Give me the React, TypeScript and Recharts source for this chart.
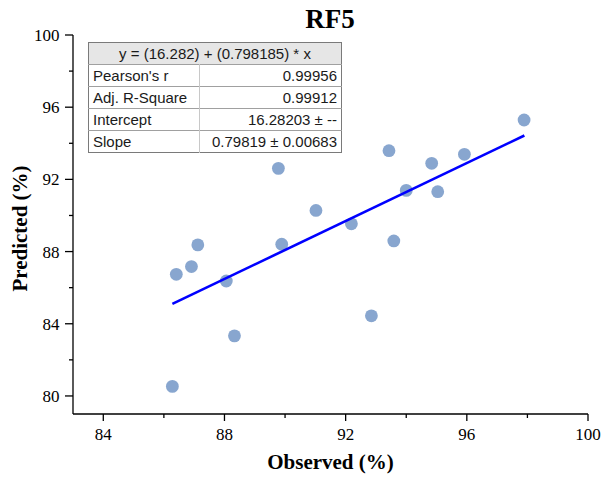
import { Label, Scatter, ScatterChart, XAxis, YAxis } from "recharts";

const OBSERVED = [86.28, 86.41, 86.91, 87.12, 88.06, 88.33, 89.78, 89.89, 91.02, 92.19, 92.85, 93.43, 93.59, 94.0, 94.84, 95.04, 95.92, 97.89];
const PREDICTED = [80.53, 86.74, 87.17, 88.37, 86.37, 83.33, 92.61, 88.41, 90.28, 89.54, 84.44, 93.59, 88.59, 91.39, 92.89, 91.32, 93.39, 95.29];

// linear fit drawn across the observed range
const FIT_X = [86.28, 97.9];
const FIT_Y = [85.1, 94.43];

const X_TICKS = [84, 86, 88, 90, 92, 94, 96, 98, 100];
const Y_TICKS = [80, 82, 84, 86, 88, 90, 92, 94, 96, 98, 100];

const EQUATION = "y = (16.282) + (0.798185) * x";
const STAT_NAMES = ["Pearson's r", "Adj. R-Square", "Intercept", "Slope"];
const STAT_VALUES = ["0.99956", "0.99912", "16.28203 ± --", "0.79819 ± 0.00683"];

const SERIF = '"Liberation Serif", "Times New Roman", serif';
const SANS = '"Liberation Sans", Arial, sans-serif';

const points = OBSERVED.map((x, i) => ({ x, y: PREDICTED[i] }));
const fit = FIT_X.map((x, i) => ({ x, y: FIT_Y[i] }));

function XTick(props: any) {
  const { x, y, payload } = props;
  const major = payload.value % 4 === 0;
  return (
    <g>
      <line x1={x} x2={x} y1={y} y2={y + (major ? 7 : 4)} stroke="#000" strokeWidth={1.3} />
      {major && (
        <text x={x} y={y + 26} textAnchor="middle" fontSize={17} fontFamily={SERIF} fill="#000">
          {payload.value}
        </text>
      )}
    </g>
  );
}

function YTick(props: any) {
  const { x, y, payload } = props;
  const major = payload.value % 4 === 0;
  return (
    <g>
      <line x1={x} x2={x - (major ? 8 : 4)} y1={y} y2={y} stroke="#000" strokeWidth={1.3} />
      {major && (
        <text x={x - 13.5} y={y + 6} textAnchor="end" fontSize={17} fontFamily={SERIF} fill="#000">
          {payload.value}
        </text>
      )}
    </g>
  );
}

const Dot = (p: any) => <circle cx={p.cx} cy={p.cy} r={6.4} fill="#88a6cf" />;

function StatsTable() {
  const cell = { height: 21, padding: "0 4px", borderTop: "1px solid #a0a0a0" } as const;
  return (
    <table
      style={{
        position: "absolute",
        left: 88,
        top: 42,
        width: 254,
        borderCollapse: "collapse",
        border: "1px solid #7a7a7a",
        fontFamily: SANS,
        fontSize: 15,
        color: "#1a1a1a",
        lineHeight: "21px",
        background: "#fff",
      }}
    >
      <tbody>
        <tr>
          <td colSpan={2} style={{ ...cell, borderTop: "none", background: "#e6e6e6", textAlign: "center" }}>
            {EQUATION}
          </td>
        </tr>
        {STAT_NAMES.map((n, i) => (
          <tr key={n}>
            <td style={{ ...cell, width: 102, borderRight: "1px solid #c8c8c8" }}>{n}</td>
            <td style={{ ...cell, textAlign: "right" }}>{STAT_VALUES[i]}</td>
          </tr>
        ))}
      </tbody>
    </table>
  );
}

export default function App() {
  return (
    <div style={{ position: "absolute", left: 0, top: 0, width: 602, height: 479, background: "#fff" }}>
      <div
        style={{
          position: "absolute",
          left: 0,
          top: 6,
          width: 660,
          textAlign: "center",
          fontFamily: SERIF,
          fontWeight: "bold",
          fontSize: 27,
          lineHeight: "27px",
        }}
      >
        RF5
      </div>
      <ScatterChart width={602} height={479} margin={{ top: 35, right: 14, bottom: 0, left: 0 }}>
        <XAxis
          type="number"
          dataKey="x"
          domain={[83, 100]}
          ticks={X_TICKS}
          interval={0}
          height={65}
          tickSize={0}
          tickMargin={0}
          tick={<XTick />}
          axisLine={{ stroke: "#000", strokeWidth: 1.3 }}
          tickLine={false}
        >
          <Label
            content={({ viewBox }: any) => (
              <text
                x={viewBox.x + viewBox.width / 2}
                y={viewBox.y + viewBox.height - 10}
                textAnchor="middle"
                fontFamily={SERIF}
                fontWeight="bold"
                fontSize={21}
                fill="#000"
              >
                Observed (%)
              </text>
            )}
          />
        </XAxis>
        <YAxis
          type="number"
          dataKey="y"
          domain={[79, 100]}
          ticks={Y_TICKS}
          interval={0}
          width={73}
          tickSize={0}
          tickMargin={0}
          tick={<YTick />}
          axisLine={{ stroke: "#000", strokeWidth: 1.3 }}
          tickLine={false}
        >
          <Label
            content={({ viewBox }: any) => {
              const cx = viewBox.x + 27;
              const cy = viewBox.y + viewBox.height / 2 + 4;
              return (
                <text
                  x={cx}
                  y={cy}
                  transform={`rotate(-90 ${cx} ${cy})`}
                  textAnchor="middle"
                  fontFamily={SERIF}
                  fontWeight="bold"
                  fontSize={21}
                  fill="#000"
                >
                  Predicted (%)
                </text>
              );
            }}
          />
        </YAxis>
        <Scatter data={points} shape={<Dot />} isAnimationActive={false} />
        <Scatter
          data={fit}
          line={{ stroke: "#0000ff", strokeWidth: 2.6 }}
          shape={() => <g />}
          isAnimationActive={false}
        />
      </ScatterChart>
      <StatsTable />
    </div>
  );
}
